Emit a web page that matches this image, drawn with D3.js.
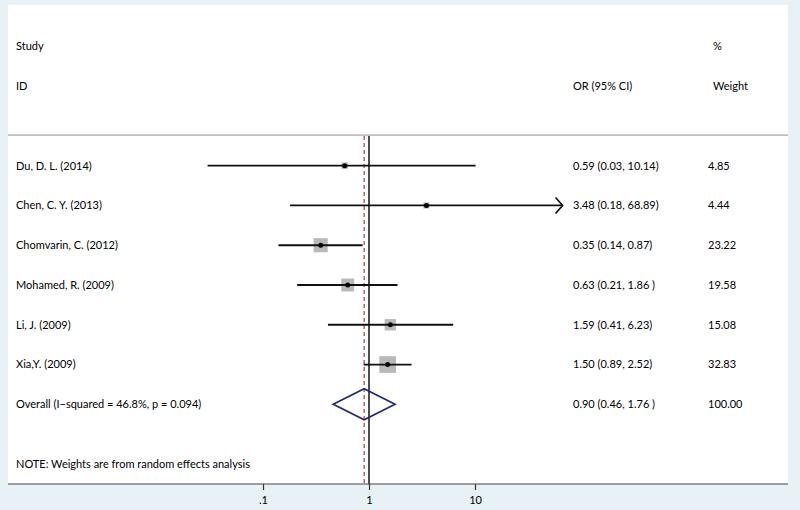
<!DOCTYPE html>
<html>
<head>
<meta charset="utf-8">
<script src="https://cdn.jsdelivr.net/npm/d3@7/dist/d3.min.js"></script>
<style>
  html, body { margin: 0; padding: 0; background: #e8f1f5; }
  svg { display: block; }
  text { font-family: Lato, "Open Sans", sans-serif; font-size: 11px; fill: #000; }
</style>
</head>
<body>
<svg id="chart" width="800" height="510"></svg>
<script>
// ---------- data ----------
const studies = ["Du, D. L. (2014)", "Chen, C. Y. (2013)", "Chomvarin, C. (2012)",
                 "Mohamed, R. (2009)", "Li, J. (2009)", "Xia,Y. (2009)"];
const orValues = [0.59, 3.48, 0.35, 0.63, 1.59, 1.50];
const ciLower  = [0.03, 0.18, 0.14, 0.21, 0.41, 0.89];
const ciUpper  = [10.14, 68.89, 0.87, 1.86, 6.23, 2.52];
const weights  = [4.85, 4.44, 23.22, 19.58, 15.08, 32.83];
const ciLabels = ["0.59 (0.03, 10.14)", "3.48 (0.18, 68.89)", "0.35 (0.14, 0.87)",
                  "0.63 (0.21, 1.86 )", "1.59 (0.41, 6.23)", "1.50 (0.89, 2.52)"];
const weightLabels = ["4.85", "4.44", "23.22", "19.58", "15.08", "32.83"];

const overallLabel = "Overall  (I\u2212squared = 46.8%, p = 0.094)";
const overallOR = 0.90, overallLower = 0.46, overallUpper = 1.76;
const overallCILabel = "0.90 (0.46, 1.76 )";
const overallWeightLabel = "100.00";
const noteText = "NOTE: Weights are from random effects analysis";

const tickValues = [0.1, 1, 10];
const tickLabels = [".1", "1", "10"];
const axisMax = 67; // upper display limit of the x axis (arrow beyond)

// ---------- layout ----------
const svg = d3.select("#chart");
const panel = { left: 8, right: 788, top: 5, bottom: 484 };

svg.append("rect")
  .attr("x", panel.left).attr("y", panel.top)
  .attr("width", panel.right - panel.left).attr("height", panel.bottom - panel.top)
  .attr("fill", "#ffffff");

const x = d3.scaleLog().domain([0.1, 10]).range([263, 475]);
const y = d3.scaleLinear().domain([0, 6]).range([165.7, 404.3]);
const boxSize = d3.scaleSqrt().domain([0, 100]).range([0, 29.2]);

const colLabel = 16, colOR = 573, colW = 708, colWHead = 713;

// headers
svg.append("text").attr("x", colLabel).attr("y", y(-3)).attr("dy", "0.35em").text("Study");
svg.append("text").attr("x", colLabel).attr("y", y(-2)).attr("dy", "0.35em").text("ID");
svg.append("text").attr("x", colOR).attr("y", y(-2)).attr("dy", "0.35em").text("OR (95% CI)");
svg.append("text").attr("x", colWHead).attr("y", y(-3)).attr("dy", "0.35em").text("%");
svg.append("text").attr("x", colWHead).attr("y", y(-2)).attr("dy", "0.35em").text("Weight");

// header rule
const ruleY = y(-0.77);
svg.append("line")
  .attr("x1", panel.left).attr("x2", panel.right)
  .attr("y1", ruleY).attr("y2", ruleY)
  .attr("stroke", "#9a8f8c").attr("stroke-width", 1);

// reference line at 1
svg.append("line")
  .attr("x1", x(1)).attr("x2", x(1))
  .attr("y1", ruleY + 1).attr("y2", panel.bottom)
  .attr("stroke", "#000").attr("stroke-width", 1.4);

// overall dashed line
svg.append("line")
  .attr("x1", x(overallOR)).attr("x2", x(overallOR))
  .attr("y1", ruleY + 1).attr("y2", panel.bottom)
  .attr("stroke", "#b03a48").attr("stroke-width", 1.2)
  .attr("stroke-dasharray", "4,3");

// study rows
const rows = studies.map((s, i) => ({
  label: s, or: orValues[i], lo: ciLower[i], hi: ciUpper[i], w: weights[i],
  ci: ciLabels[i], wl: weightLabels[i], i
}));

const g = svg.append("g");
rows.forEach(d => {
  const yy = y(d.i);
  const size = boxSize(d.w);
  g.append("rect")
    .attr("x", x(d.or) - size / 2).attr("y", yy - size / 2)
    .attr("width", size).attr("height", size)
    .attr("fill", "#b9b9b9");
  const clipped = d.hi > axisMax;
  const hiX = clipped ? x(axisMax) : x(d.hi);
  g.append("line")
    .attr("x1", x(d.lo)).attr("x2", hiX)
    .attr("y1", yy).attr("y2", yy)
    .attr("stroke", "#111").attr("stroke-width", 1.8);
  if (clipped) {
    g.append("path")
      .attr("d", `M${hiX - 7},${yy - 8} L${hiX},${yy} L${hiX - 7},${yy + 8}`)
      .attr("fill", "none").attr("stroke", "#111").attr("stroke-width", 1.7);
  }
  g.append("circle")
    .attr("cx", x(d.or)).attr("cy", yy).attr("r", 2.5)
    .attr("fill", "#000");
  g.append("text").attr("x", colLabel).attr("y", yy).attr("dy", "0.35em").text(d.label);
  g.append("text").attr("x", colOR).attr("y", yy).attr("dy", "0.35em").text(d.ci);
  g.append("text").attr("x", colW).attr("y", yy).attr("dy", "0.35em").text(d.wl);
});

// overall
const yo = y(6);
const dh = 15.5;
svg.append("path")
  .attr("d", `M${x(overallLower)},${yo} L${x(overallOR)},${yo - dh} L${x(overallUpper)},${yo} L${x(overallOR)},${yo + dh} Z`)
  .attr("fill", "none").attr("stroke", "#1f2a78").attr("stroke-width", 1.7);
svg.append("text").attr("x", colLabel).attr("y", yo).attr("dy", "0.35em").text(overallLabel);
svg.append("text").attr("x", colOR).attr("y", yo).attr("dy", "0.35em").text(overallCILabel);
svg.append("text").attr("x", colW).attr("y", yo).attr("dy", "0.35em").text(overallWeightLabel);

// note
svg.append("text").attr("x", colLabel).attr("y", y(7.5)).attr("dy", "0.35em").text(noteText);

// x axis
const axis = d3.axisBottom(x).tickValues(tickValues)
  .tickFormat((d, i) => tickLabels[i]).tickSize(6).tickPadding(6);
const ax = svg.append("g").attr("transform", `translate(0,${panel.bottom})`).call(axis);
ax.select(".domain").remove();
ax.selectAll(".tick line").attr("stroke", "#333").attr("stroke-width", 1.2);
ax.selectAll(".tick text").style("font-family", "Lato, 'Open Sans', sans-serif")
  .style("font-size", "11px").attr("fill", "#000");
svg.append("line")
  .attr("x1", panel.left).attr("x2", panel.right)
  .attr("y1", panel.bottom).attr("y2", panel.bottom)
  .attr("stroke", "#444").attr("stroke-width", 1.2);
</script>
</body>
</html>
